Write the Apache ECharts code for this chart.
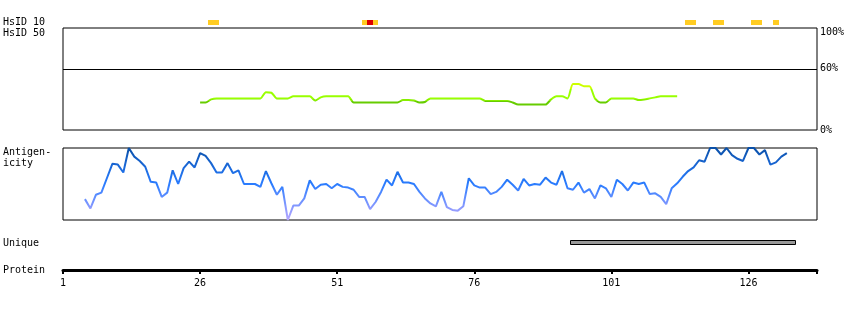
<!DOCTYPE html>
<html><head><meta charset="utf-8">
<script src="https://cdn.jsdelivr.net/npm/echarts@6/dist/echarts.min.js"></script>
<style>html,body{margin:0;padding:0;background:#fff}#c{width:850px;height:310px}</style>
</head><body><div id="c"></div>
<script>
// ---- data ----
const axisMin = 1;
const axisMax = 138.5;
const positionTicks = [1, 26, 51, 76, 101, 126];
const positionTickMarks = [1, 26, 51, 76, 101, 126, 138.5];
const hsid50Ticks = [0, 60, 100];
const hsid50Threshold = 60;

const hsid10Residues = [28, 29, 56, 57, 58, 115, 116, 120, 121, 127, 128, 131];
const hsid10Level    = [1, 1, 1, 2, 1, 1, 1, 1, 1, 1, 1, 1];

const hsid50Start = 26;
const hsid50Values = [
  27, 27, 30, 31, 31, 31, 31, 31, 31, 31, 31, 31, 37, 36.5, 31, 31, 31, 33, 33, 33,
  33, 29, 32, 33, 33, 33, 33, 33, 27, 27, 27, 27, 27, 27, 27, 27, 27, 29.4, 29.4, 29,
  27, 27.5, 31, 31, 31, 31, 31, 31, 31, 31, 31, 31, 28.5, 28.5, 28.5, 28.5, 28.5, 27, 25, 25,
  25, 25, 25, 25, 30, 33, 33, 31, 45, 45, 43, 43, 31, 27, 27, 31, 31, 31, 31, 31,
  29.4, 30, 31, 32, 33, 33, 33, 33
];

const antigenStart = 5;
const antigenValues = [
  0.29, 0.16, 0.35, 0.38, 0.58, 0.78, 0.77, 0.66, 1.00, 0.88,
  0.82, 0.74, 0.53, 0.52, 0.32, 0.38, 0.69, 0.50, 0.72, 0.81,
  0.73, 0.93, 0.89, 0.79, 0.66, 0.66, 0.79, 0.65, 0.69, 0.50,
  0.50, 0.50, 0.46, 0.68, 0.51, 0.35, 0.46, 0.00, 0.20, 0.20,
  0.30, 0.55, 0.43, 0.49, 0.50, 0.44, 0.50, 0.46, 0.45, 0.42,
  0.32, 0.32, 0.15, 0.25, 0.39, 0.56, 0.48, 0.67, 0.52, 0.52,
  0.50, 0.39, 0.30, 0.23, 0.19, 0.39, 0.18, 0.14, 0.13, 0.19,
  0.58, 0.48, 0.45, 0.45, 0.36, 0.39, 0.46, 0.56, 0.49, 0.41,
  0.57, 0.48, 0.50, 0.49, 0.59, 0.52, 0.49, 0.68, 0.44, 0.42,
  0.52, 0.38, 0.43, 0.30, 0.48, 0.44, 0.32, 0.56, 0.50, 0.41,
  0.52, 0.50, 0.52, 0.36, 0.37, 0.32, 0.22, 0.44, 0.51, 0.60,
  0.68, 0.73, 0.83, 0.81, 1.00, 1.00, 0.91, 1.00, 0.90, 0.85,
  0.82, 1.00, 1.00, 0.91, 0.97, 0.77, 0.80, 0.88, 0.93
];

const uniqueRange = [94, 134];

const rowLabels = [
  { text: 'HsID 10', y: 22.5 },
  { text: 'HsID 50', y: 33 },
  { text: 'Antigen-', y: 152.5 },
  { text: 'icity', y: 163 },
  { text: 'Unique', y: 243 },
  { text: 'Protein', y: 270 }
];

// ---- chart ----
const FONT = 'DejaVu Sans Mono';
const chart = echarts.init(document.getElementById('c'), null, { renderer: 'canvas' });

const hsid50Data = hsid50Values.map((v, i) => [hsid50Start + i, v]);
const antigenData = antigenValues.map((v, i) => [antigenStart + i, v]);
const hsid10Data = hsid10Residues.map((r, i) => [r, hsid10Level[i]]);

const L = 63, W = 754;
function xAx(i, extra) {
  return Object.assign({ gridIndex: i, type: 'value', min: axisMin, max: axisMax, show: false }, extra || {});
}
function yAx(i, min, max, extra) {
  return Object.assign({ gridIndex: i, type: 'value', min: min, max: max, show: false }, extra || {});
}

const option = {
  animation: false,
  backgroundColor: '#fff',
  grid: [
    { left: L, width: W, top: 20, height: 5 },
    { left: L, width: W, top: 28, height: 102, show: true, borderColor: '#000', borderWidth: 1, backgroundColor: 'transparent' },
    { left: L, width: W, top: 148, height: 72, show: true, borderColor: '#000', borderWidth: 1, backgroundColor: 'transparent' },
    { left: L, width: W, top: 240, height: 5 },
    { left: L, width: W, top: 261, height: 9 }
  ],
  xAxis: [
    xAx(0), xAx(1), xAx(2), xAx(3),
    xAx(4, {
      show: true, position: 'bottom',
      axisLine: { show: true, onZero: false, lineStyle: { color: '#000', width: 3 } },
      axisTick: { show: true, length: 4, customValues: positionTickMarks, lineStyle: { color: '#000', width: 2 } },
      axisLabel: { show: true, customValues: positionTicks, margin: 8, color: '#000', fontFamily: FONT, fontSize: 10 },
      splitLine: { show: false }
    })
  ],
  yAxis: [
    yAx(0, 0, 1),
    yAx(1, 0, 100, {
      show: true, position: 'right',
      axisLine: { show: false }, axisTick: { show: false }, splitLine: { show: false },
      axisLabel: {
        show: true, customValues: hsid50Ticks, margin: 3, color: '#000', fontFamily: FONT, fontSize: 10,
        formatter: v => v === 100 ? '{a|100%}' : v + '%',
        rich: { a: { padding: [8, 0, 0, 0], fontFamily: FONT, fontSize: 10, color: '#000' } }
      }
    }),
    yAx(2, 0, 1),
    yAx(3, 0, 1),
    yAx(4, 0, 1)
  ],
  visualMap: [
    {
      type: 'piecewise', show: false, seriesIndex: 1, dimension: 1,
      pieces: [
        { lt: 28.8, color: '#66cc00' },
        { gte: 28.8, lt: 30, color: '#88ee00' },
        { gte: 30, lt: 40, color: '#99ff00' },
        { gte: 40, color: '#ccff00' }
      ]
    },
    {
      type: 'continuous', show: false, seriesIndex: 2, dimension: 1, min: 0, max: 1,
      inRange: { color: ['#b4a6ff', '#8c9aff', '#5a8cff', '#2a7cff', '#1f6fe6', '#1560c8', '#0a50a8'] }
    }
  ],
  series: [
    {
      type: 'custom', xAxisIndex: 0, yAxisIndex: 0, data: hsid10Data, silent: true,
      renderItem: (params, api) => {
        const r = api.value(0);
        const p0 = api.coord([r - 0.5, 0]);
        const p1 = api.coord([r + 0.5, 1]);
        const x0 = Math.round(p0[0]), x1 = Math.round(p1[0]);
        return {
          type: 'rect',
          shape: { x: x0, y: p1[1], width: x1 - x0, height: p0[1] - p1[1] },
          style: { fill: api.value(1) === 2 ? '#dd0000' : '#ffcc22' }
        };
      }
    },
    {
      type: 'line', xAxisIndex: 1, yAxisIndex: 1, data: hsid50Data, showSymbol: false, smooth: 0.25,
      lineStyle: { width: 2 }, silent: true,
      markLine: {
        silent: true, symbol: ['none', 'none'], label: { show: false },
        lineStyle: { color: '#000', width: 1, type: 'solid' },
        data: [{ yAxis: hsid50Threshold }]
      }
    },
    {
      type: 'line', xAxisIndex: 2, yAxisIndex: 2, data: antigenData, showSymbol: false,
      lineStyle: { width: 2 }, silent: true
    },
    {
      type: 'custom', xAxisIndex: 3, yAxisIndex: 3, data: [[uniqueRange[0], uniqueRange[1]]], silent: true,
      renderItem: (params, api) => {
        const p0 = api.coord([api.value(0) - 0.5, 0]);
        const p1 = api.coord([api.value(1) + 0.5, 1]);
        return {
          type: 'rect',
          shape: { x: Math.round(p0[0]) + 0.5, y: Math.round(p1[1]) + 0.5, width: Math.round(p1[0] - p0[0]), height: Math.round(p0[1] - p1[1]) - 1 },
          style: { fill: '#999999', stroke: '#000', lineWidth: 1 }
        };
      }
    }
  ],
  graphic: rowLabels.map(l => ({
    type: 'text', x: 3, y: l.y, silent: true,
    style: { text: l.text, fill: '#000', font: '10px "' + FONT + '"', verticalAlign: 'middle' }
  }))
};
chart.setOption(option);
</script></body></html>
